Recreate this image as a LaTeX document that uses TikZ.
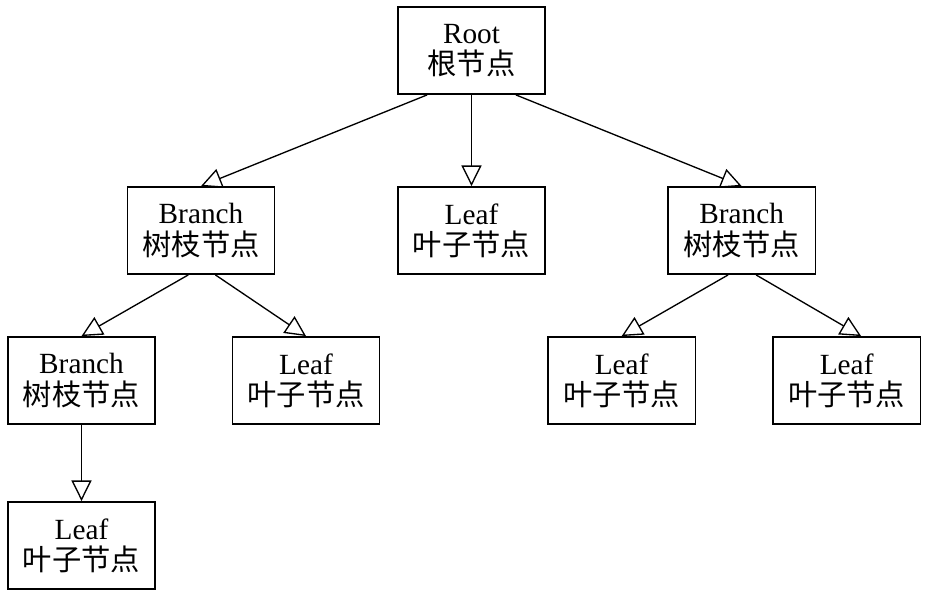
\documentclass[tikz,border=0pt]{standalone}
\usepackage{fontspec}
\setmainfont{Liberation Serif}
\newfontfamily\cjk{Noto Sans CJK SC}
\usetikzlibrary{arrows.meta}
\tikzset{
    tree node/.style = {draw, line width=0.045cm, minimum width=4.42cm, minimum height=2.62cm,
        align=center, inner sep=0pt, font=\fontsize{25}{26.5}\selectfont},
    tree edge/.style = {draw, line width=0.04cm, -{Triangle[open, length=0.62cm, width=0.6cm]}},
}
\newcommand{\branchtext}{Branch\\{\cjk 树枝节点}}
\newcommand{\leaftext}{Leaf\\{\cjk 叶子节点}}

\begin{document}
\begin{tikzpicture}
        \useasboundingbox (0, 0) rectangle (27.93, -17.97);

        \node[tree node] (root) at (14.145, -1.515) {Root\\{\cjk 根节点}};

        \node[tree node] (b1) at (6.03, -6.915) {\branchtext};
        \node[tree node] (l0) at (14.145, -6.915) {\leaftext};
        \node[tree node] (b2) at (22.25, -6.915) {\branchtext};

        \node[tree node] (b11) at (2.445, -11.415) {\branchtext};
        \node[tree node] (l12) at (9.18, -11.415) {\leaftext};
        \node[tree node] (l21) at (18.65, -11.415) {\leaftext};
        \node[tree node] (l22) at (25.4, -11.415) {\leaftext};

        \node[tree node] (l111) at (2.445, -16.365) {\leaftext};

        \draw[tree edge] (root.225) -- (b1.north);
        \draw[tree edge] (root.south) -- (l0.north);
        \draw[tree edge] (root.315) -- (b2.north);
        \draw[tree edge] (b1.254) -- (b11.north);
        \draw[tree edge] (b1.288) -- (l12.north);
        \draw[tree edge] (b2.253) -- (l21.north);
        \draw[tree edge] (b2.288) -- (l22.72);
        \draw[tree edge] (b11.south) -- (l111.north);
    \end{tikzpicture}
\end{document}
